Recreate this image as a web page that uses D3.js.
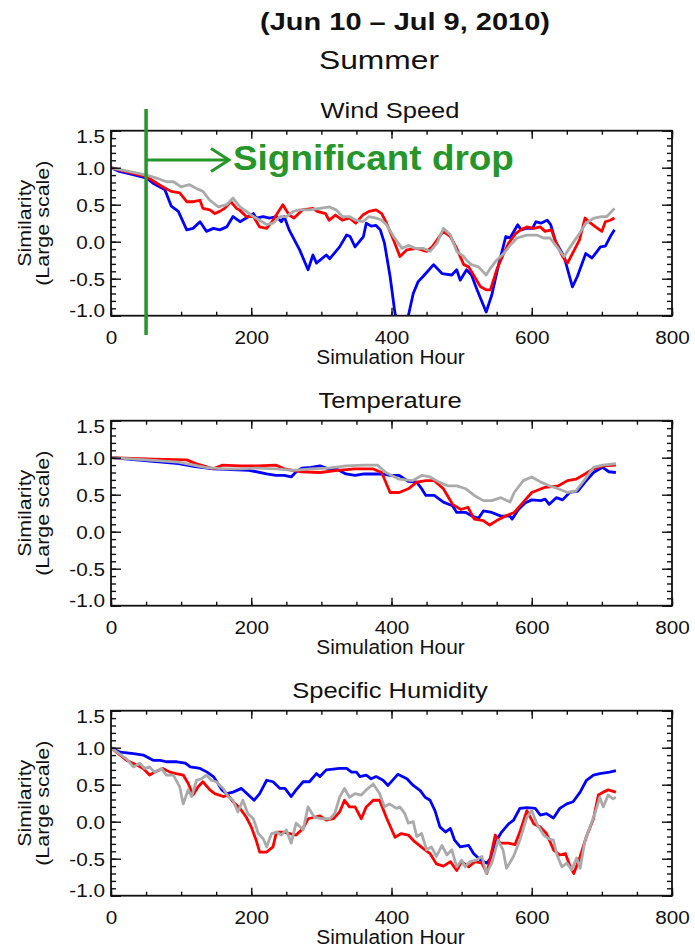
<!DOCTYPE html>
<html>
<head>
<meta charset="utf-8">
<script src="https://cdn.jsdelivr.net/npm/d3@7"></script>
<style>
  body { margin: 0; background: #fff; }
  text { font-family: "Liberation Sans", Arial, Helvetica, sans-serif; fill: #111; }
</style>
</head>
<body>
<script>

/***** data (hour, similarity) *****/
var xTicks = [0, 200, 400, 600, 800];
var yTicks = [-1.0, -0.5, 0.0, 0.5, 1.0, 1.5];
var dropHour = 50;

var windBlue = [[0,1.0],[12,0.95],[30,0.91],[51,0.86],[60,0.79],[77,0.70],[86,0.48],[96,0.41],[108,0.16],[117,0.18],[127,0.27],[136,0.14],[146,0.18],[155,0.16],[165,0.20],[174,0.34],[184,0.27],[193,0.32],[203,0.38],[207,0.32],[217,0.34],[226,0.32],[236,0.34],[243,0.27],[247,0.34],[254,0.16],[269,-0.11],[281,-0.38],[288,-0.18],[293,-0.29],[307,-0.18],[312,-0.23],[326,-0.07],[336,0.09],[341,0.07],[348,-0.07],[360,0.07],[364,0.25],[371,0.21],[378,0.22],[384,0.16],[390,-0.02],[398,-0.47],[405,-0.97],[413,-1.2],[419,-1.2],[424,-1.0],[431,-0.70],[438,-0.54],[445,-0.47],[460,-0.31],[472,-0.43],[486,-0.45],[493,-0.38],[498,-0.52],[507,-0.38],[514,-0.45],[522,-0.65],[535,-0.95],[543,-0.72],[552,-0.34],[563,0.07],[569,0.05],[580,0.23],[585,0.16],[592,0.18],[601,0.18],[606,0.27],[613,0.25],[622,0.29],[627,0.23],[634,0.0],[646,-0.20],[658,-0.61],[665,-0.47],[677,-0.16],[686,-0.22],[698,-0.07],[705,-0.06],[712,0.07],[718,0.16]];
var windRed = [[0,1.0],[20,0.95],[51,0.88],[62,0.81],[74,0.74],[86,0.68],[98,0.66],[108,0.54],[117,0.54],[127,0.56],[131,0.45],[141,0.43],[148,0.38],[155,0.41],[162,0.45],[171,0.54],[179,0.45],[183,0.43],[193,0.34],[203,0.34],[212,0.20],[222,0.18],[231,0.29],[245,0.50],[254,0.36],[261,0.32],[273,0.43],[288,0.45],[294,0.41],[306,0.38],[311,0.29],[320,0.36],[330,0.29],[340,0.32],[349,0.25],[359,0.36],[368,0.41],[378,0.43],[386,0.38],[393,0.25],[403,0.02],[412,-0.20],[422,-0.11],[436,-0.09],[450,-0.13],[458,-0.07],[467,0.05],[474,0.14],[484,0.07],[493,-0.09],[503,-0.31],[510,-0.34],[517,-0.45],[527,-0.61],[535,-0.65],[541,-0.65],[550,-0.38],[560,-0.16],[567,-0.02],[577,0.11],[584,0.16],[593,0.20],[603,0.18],[612,0.20],[619,0.14],[628,0.16],[634,0.0],[644,-0.20],[651,-0.29],[658,-0.16],[668,0.02],[676,0.32],[684,0.25],[691,0.20],[700,0.14],[705,0.27],[712,0.29],[718,0.32]];
var windGray = [[0,1.0],[25,0.95],[51,0.90],[65,0.86],[79,0.81],[89,0.81],[100,0.74],[112,0.77],[122,0.72],[131,0.68],[141,0.56],[153,0.47],[165,0.50],[174,0.59],[184,0.47],[193,0.41],[203,0.34],[212,0.29],[222,0.23],[231,0.25],[241,0.34],[250,0.34],[260,0.41],[269,0.43],[283,0.43],[298,0.45],[312,0.47],[321,0.43],[330,0.34],[340,0.34],[349,0.29],[359,0.27],[368,0.34],[378,0.32],[386,0.29],[393,0.23],[403,0.07],[415,-0.09],[424,-0.05],[434,-0.09],[445,-0.09],[455,-0.13],[465,-0.02],[474,0.18],[484,0.09],[493,-0.13],[503,-0.20],[507,-0.25],[514,-0.31],[524,-0.34],[535,-0.45],[541,-0.36],[550,-0.25],[560,-0.16],[569,-0.05],[579,0.05],[593,0.09],[607,0.09],[617,0.05],[626,0.05],[636,-0.07],[646,-0.20],[655,-0.07],[668,0.11],[677,0.25],[689,0.32],[700,0.34],[707,0.34],[718,0.45]];

var tempBlue = [[0,1.0],[48,0.96],[96,0.92],[120,0.88],[146,0.85],[171,0.84],[197,0.83],[222,0.78],[235,0.76],[247,0.76],[257,0.74],[263,0.80],[272,0.86],[285,0.87],[298,0.89],[310,0.85],[323,0.84],[335,0.78],[348,0.76],[361,0.78],[373,0.78],[386,0.78],[398,0.76],[411,0.76],[424,0.68],[436,0.67],[443,0.58],[449,0.49],[461,0.49],[474,0.40],[487,0.35],[493,0.26],[506,0.26],[515,0.21],[524,0.18],[531,0.28],[543,0.26],[556,0.21],[569,0.21],[572,0.17],[581,0.30],[591,0.39],[600,0.43],[613,0.42],[619,0.44],[625,0.37],[635,0.46],[644,0.43],[654,0.53],[666,0.55],[676,0.67],[688,0.80],[701,0.87],[710,0.81],[720,0.80]];
var tempRed = [[0,1.0],[60,0.98],[108,0.97],[121,0.92],[146,0.85],[159,0.90],[184,0.89],[209,0.89],[235,0.90],[247,0.85],[272,0.81],[298,0.80],[323,0.83],[348,0.85],[373,0.85],[386,0.80],[398,0.53],[411,0.53],[424,0.58],[436,0.67],[449,0.69],[461,0.69],[474,0.58],[487,0.37],[499,0.30],[509,0.33],[518,0.17],[531,0.15],[540,0.09],[550,0.15],[562,0.21],[575,0.26],[588,0.40],[600,0.53],[619,0.60],[638,0.62],[651,0.69],[663,0.71],[676,0.78],[688,0.85],[701,0.89],[720,0.90]];
var tempGray = [[0,1.0],[50,0.97],[96,0.94],[134,0.87],[159,0.85],[184,0.85],[209,0.86],[235,0.85],[260,0.83],[285,0.85],[310,0.86],[335,0.89],[361,0.90],[380,0.90],[392,0.80],[411,0.71],[430,0.69],[443,0.76],[455,0.74],[468,0.67],[480,0.62],[493,0.62],[506,0.58],[518,0.49],[531,0.42],[543,0.42],[556,0.46],[569,0.40],[575,0.53],[588,0.69],[600,0.74],[613,0.67],[625,0.62],[638,0.58],[651,0.53],[663,0.55],[676,0.71],[688,0.87],[701,0.90],[720,0.92]];

var humBlue = [[0,1.0],[13,0.94],[32,0.92],[46,0.90],[60,0.83],[70,0.83],[79,0.81],[94,0.81],[106,0.79],[113,0.74],[127,0.72],[137,0.67],[146,0.61],[153,0.51],[158,0.43],[165,0.38],[174,0.40],[186,0.45],[196,0.36],[204,0.29],[212,0.38],[222,0.56],[231,0.54],[241,0.45],[248,0.45],[257,0.34],[264,0.43],[274,0.54],[283,0.54],[293,0.65],[298,0.61],[307,0.70],[317,0.71],[326,0.72],[336,0.72],[343,0.67],[350,0.67],[355,0.61],[364,0.63],[371,0.58],[378,0.61],[388,0.56],[395,0.49],[409,0.64],[422,0.58],[431,0.49],[441,0.42],[448,0.33],[455,0.29],[462,0.15],[469,-0.07],[477,-0.14],[484,-0.09],[490,-0.25],[498,-0.34],[510,-0.32],[517,-0.43],[526,-0.51],[536,-0.56],[543,-0.47],[550,-0.25],[557,-0.14],[567,-0.03],[574,0.02],[583,0.18],[593,0.19],[605,0.18],[612,0.09],[621,0.11],[631,0.05],[640,0.18],[650,0.24],[659,0.27],[669,0.40],[678,0.56],[688,0.63],[697,0.65],[711,0.67],[720,0.69]];
var humRed = [[0,1.0],[22,0.83],[36,0.77],[46,0.72],[55,0.63],[62,0.67],[74,0.72],[84,0.67],[93,0.65],[103,0.63],[110,0.52],[117,0.36],[124,0.47],[131,0.54],[141,0.43],[148,0.38],[160,0.34],[167,0.36],[174,0.27],[184,0.18],[193,0.06],[200,-0.07],[207,-0.25],[212,-0.41],[222,-0.41],[231,-0.34],[236,-0.14],[245,-0.14],[255,-0.16],[264,-0.18],[274,-0.09],[281,0.04],[290,0.06],[298,0.08],[307,0.02],[317,0.04],[326,0.13],[333,0.29],[340,0.20],[348,0.20],[357,0.04],[364,0.20],[374,0.29],[383,0.29],[393,0.05],[405,-0.21],[414,-0.16],[424,-0.18],[433,-0.27],[445,-0.36],[455,-0.43],[464,-0.57],[474,-0.60],[484,-0.54],[493,-0.66],[500,-0.54],[510,-0.61],[519,-0.54],[529,-0.56],[536,-0.70],[548,-0.18],[555,-0.29],[567,-0.29],[576,-0.31],[583,-0.14],[593,0.15],[603,-0.03],[612,-0.07],[621,-0.16],[631,-0.38],[640,-0.45],[648,-0.43],[655,-0.61],[660,-0.70],[669,-0.47],[678,-0.20],[688,0.04],[695,0.36],[702,0.40],[709,0.43],[720,0.40]];
var humGray = [[0,1.0],[22,0.85],[32,0.74],[41,0.79],[48,0.72],[55,0.74],[62,0.67],[72,0.72],[79,0.63],[89,0.63],[98,0.47],[103,0.24],[110,0.43],[115,0.34],[122,0.56],[129,0.58],[136,0.63],[143,0.56],[150,0.54],[160,0.45],[167,0.34],[174,0.29],[181,0.13],[188,0.29],[195,0.11],[203,0.04],[210,-0.16],[217,-0.23],[222,-0.34],[229,-0.16],[236,-0.14],[243,-0.18],[250,-0.11],[257,-0.29],[264,-0.02],[274,-0.11],[281,0.20],[290,0.06],[300,0.04],[312,0.04],[319,0.11],[326,0.33],[333,0.45],[340,0.33],[348,0.38],[357,0.36],[364,0.43],[374,0.51],[383,0.38],[390,0.20],[397,0.24],[407,0.18],[412,0.20],[419,0.11],[424,-0.02],[431,0.0],[436,-0.20],[443,-0.16],[450,-0.38],[457,-0.34],[464,-0.47],[472,-0.32],[479,-0.45],[486,-0.38],[493,-0.61],[500,-0.52],[505,-0.61],[512,-0.54],[521,-0.52],[529,-0.47],[535,-0.70],[543,-0.56],[552,-0.25],[559,-0.38],[564,-0.63],[574,-0.47],[583,-0.25],[593,0.06],[600,0.15],[607,-0.02],[617,-0.18],[624,-0.23],[631,-0.25],[636,-0.45],[643,-0.61],[650,-0.56],[657,-0.65],[664,-0.49],[669,-0.63],[676,-0.25],[683,-0.07],[690,0.11],[697,0.33],[702,0.20],[709,0.36],[716,0.31],[720,0.33]];

var panelTitles = ["Wind Speed", "Temperature", "Specific Humidity"];
var panelSeries = [[windBlue, windRed, windGray], [tempBlue, tempRed, tempGray], [humBlue, humRed, humGray]];
var seriesColors = ["#0000ff", "#ff0000", "#aaaaaa"];

/***** layout *****/
var width = 695, height = 949;
var left = 111, right = 672, plotH = 185;
var panelTops = [130.7, 420.7, 710.7];

var svg = d3.select("body").append("svg")
    .attr("width", width)
    .attr("height", height);

svg.append("rect").attr("width", width).attr("height", height).attr("fill", "#fff");

// text that is a bit wider than the font, like the original
function label(g, str, x, y, o) {
    var t = g.append("text")
        .attr("transform", "translate(" + x + "," + y + ")" + (o.rotate ? " rotate(" + o.rotate + ")" : "") + " scale(" + (o.sx || 1) + ",1)")
        .attr("text-anchor", o.anchor || "middle")
        .style("font-size", o.size + "px")
        .style("font-weight", o.weight || "normal")
        .text(str);
    if (o.fill) t.style("fill", o.fill);
    return t;
}

label(svg, "(Jun 10 \u2013 Jul 9, 2010)", 405, 29.5, {size: 23, sx: 1.26, weight: "bold"});
label(svg, "Summer", 379, 69, {size: 25, sx: 1.27});

var x = d3.scaleLinear().domain([0, 800]).range([left, right]);
var xMinor = d3.range(0, 801, 50);
var yMinor = d3.range(-10, 16).map(function(d) { return d / 10; });

var line = d3.line()
    .x(function(d) { return x(d[0]); });

panelTops.forEach(function(top, i) {
    var bottom = top + plotH;
    var y = d3.scaleLinear().domain([-1, 1.5]).range([bottom, top]);
    line.y(function(d) { return y(d[1]); });

    var g = svg.append("g");

    svg.append("clipPath").attr("id", "clip" + i)
      .append("rect")
        .attr("x", left).attr("y", top)
        .attr("width", right - left).attr("height", plotH);

    // series
    g.append("g").attr("clip-path", "url(#clip" + i + ")")
      .selectAll("path")
      .data(panelSeries[i])
      .enter()
      .append("path")
        .attr("d", line)
        .attr("fill", "none")
        .attr("stroke", function(d, j) { return seriesColors[j]; })
        .attr("stroke-width", 2.8)
        .attr("stroke-linejoin", "round");

    // ticks, all pointing inward
    function ticks(axis, tx, ty) {
        var a = g.append("g").attr("transform", "translate(" + tx + "," + ty + ")").call(axis);
        a.select(".domain").remove();
        a.selectAll("line").attr("stroke", "#111").attr("stroke-width", 1.4);
        return a;
    }
    ticks(d3.axisBottom(x).tickValues(xMinor).tickSizeInner(-4).tickSizeOuter(0).tickFormat(""), 0, bottom);
    ticks(d3.axisTop(x).tickValues(xMinor).tickSizeInner(-4).tickSizeOuter(0).tickFormat(""), 0, top);
    ticks(d3.axisTop(x).tickValues(xTicks).tickSizeInner(-8).tickSizeOuter(0).tickFormat(""), 0, top);
    ticks(d3.axisLeft(y).tickValues(yMinor).tickSizeInner(-5).tickSizeOuter(0).tickFormat(""), left, 0);
    ticks(d3.axisRight(y).tickValues(yMinor).tickSizeInner(-5).tickSizeOuter(0).tickFormat(""), right, 0);
    ticks(d3.axisRight(y).tickValues(yTicks).tickSizeInner(-10).tickSizeOuter(0).tickFormat(""), right, 0);

    var xa = ticks(d3.axisBottom(x).tickValues(xTicks).tickSizeInner(-8).tickSizeOuter(0).tickPadding(15)
        .tickFormat(function(d) { return d; }), 0, bottom);
    xa.selectAll("text")
        .attr("transform", "scale(1.12,1)")
        .style("font-size", "18.5px")
        .style("fill", "#111");

    var ya = ticks(d3.axisLeft(y).tickValues(yTicks).tickSizeInner(-10).tickSizeOuter(0).tickPadding(6)
        .tickFormat(function(d) { return d.toFixed(1); }), left, 0);
    ya.selectAll("text")
        .attr("x", -6 / 1.12)
        .attr("y", function(d) {
            var c = Math.max(top + 6, Math.min(bottom - 5.5, y(d) + 1));
            return c - y(d);
        })
        .attr("transform", "scale(1.12,1)")
        .style("font-size", "18.5px")
        .style("fill", "#111");

    // frame
    g.append("rect")
        .attr("x", left).attr("y", top)
        .attr("width", right - left).attr("height", plotH)
        .attr("fill", "none")
        .attr("stroke", "#111")
        .attr("stroke-width", 1.8);

    label(g, panelTitles[i], (left + right) / 2 - 1.5, top - 13, {size: 22, sx: 1.16});
    label(g, "Simulation Hour", (left + right) / 2 - 1, bottom + 48, {size: 19.5, sx: 1.07});
    label(g, "Similarity", 31, top + plotH / 2, {size: 19, sx: 1.13, rotate: -90});
    label(g, "(Large scale)", 49, top + plotH / 2, {size: 19, sx: 1.13, rotate: -90});
});

/***** annotation on the wind panel *****/
var green = "#26962a";
var ann = svg.append("g").attr("stroke", green).attr("stroke-width", 3.5).attr("fill", "none");
ann.append("line").attr("x1", x(dropHour)).attr("x2", x(dropHour)).attr("y1", 109).attr("y2", 335);
ann.append("line").attr("x1", x(dropHour)).attr("x2", 229).attr("y1", 160).attr("y2", 160).attr("stroke-width", 3);
ann.append("path").attr("d", "M211,148.5L229,160L211,171.5").attr("stroke-width", 3);
label(svg, "Significant drop", 233, 170, {size: 34.5, sx: 1.07, weight: "bold", anchor: "start", fill: green});

</script>
</body>
</html>
